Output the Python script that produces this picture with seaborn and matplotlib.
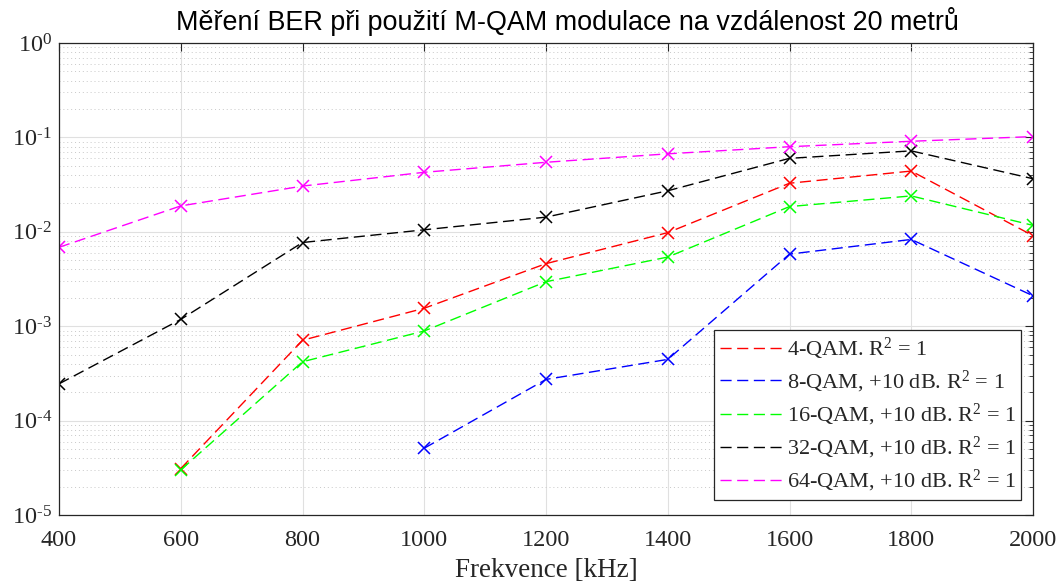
import numpy as np
import pandas as pd
import matplotlib
matplotlib.use("Agg")
import matplotlib.pyplot as plt
import seaborn as sns
from matplotlib.lines import Line2D
from matplotlib.ticker import LogLocator, NullFormatter, FixedLocator, FuncFormatter

freq = [400, 600, 800, 1000, 1200, 1400, 1600, 1800, 2000]
ber_4qam = [np.nan, 3.1e-5, 7.1e-4, 1.55e-3, 4.6e-3, 9.8e-3, 3.27e-2, 4.4e-2, 9.1e-3]
ber_8qam = [np.nan, np.nan, np.nan, 5.1e-5, 2.73e-4, 4.45e-4, 5.8e-3, 8.3e-3, 2.1e-3]
ber_16qam = [np.nan, 3.0e-5, 4.2e-4, 8.9e-4, 2.96e-3, 5.4e-3, 1.85e-2, 2.4e-2, 1.17e-2]
ber_32qam = [2.45e-4, 1.18e-3, 7.7e-3, 1.05e-2, 1.43e-2, 2.72e-2, 6.0e-2, 7.2e-2, 3.65e-2]
ber_64qam = [6.85e-3, 1.88e-2, 3.05e-2, 4.27e-2, 5.45e-2, 6.7e-2, 7.97e-2, 9.1e-2, 1.02e-1]

labels = ["4-QAM. R$^2$ = 1", "8-QAM, +10 dB. R$^2$ = 1", "16-QAM, +10 dB. R$^2$ = 1",
          "32-QAM, +10 dB. R$^2$ = 1", "64-QAM, +10 dB. R$^2$ = 1"]
colors = ["#ff0000", "#0000ff", "#00ff00", "#000000", "#ff00ff"]
series = [ber_4qam, ber_8qam, ber_16qam, ber_32qam, ber_64qam]

title = "Měření BER při použití M-QAM modulace na vzdálenost 20 metrů"
xlabel = "Frekvence [kHz]"

sns.set_style("white")
plt.rcParams["font.family"] = ["Liberation Serif", "DejaVu Serif"]
plt.rcParams["mathtext.fontset"] = "custom"
plt.rcParams["mathtext.rm"] = "Liberation Serif"
plt.rcParams["mathtext.it"] = "Liberation Serif:italic"

fig = plt.figure(figsize=(10.59, 5.85), dpi=100)
ax = fig.add_axes([59/1059, 1 - 515/585, (1033-59)/1059, (515-43)/585])

axc = "#262626"
dash = (8, 4)
for lab, col, vals in zip(labels, colors, series):
    df = pd.DataFrame({"f": freq, "ber": vals}).dropna()
    sns.lineplot(data=df, x="f", y="ber", ax=ax, color=col, marker="x",
                 markersize=9, markeredgewidth=1.1, markeredgecolor=col,
                 linewidth=1.0, legend=False)
for ln in ax.get_lines():
    ln.set_dashes(dash)

def logfmt(v, pos):
    n = int(round(np.log10(v)))
    if n < 0:
        return r"$10^{\text{-}%d}$" % (-n)
    return r"$10^{%d}$" % n

ax.set_yscale("log")
ax.set_xlim(400, 2000)
ax.set_ylim(1e-5, 1e0)
ax.xaxis.set_major_locator(FixedLocator(freq))
ax.yaxis.set_major_locator(LogLocator(base=10, numticks=10))
ax.yaxis.set_major_formatter(FuncFormatter(logfmt))
ax.yaxis.set_minor_locator(LogLocator(base=10, subs=np.arange(2, 10), numticks=20))
ax.yaxis.set_minor_formatter(NullFormatter())

ax.grid(True, which="major", color="#e0e0e0", linewidth=0.8, linestyle="-")
ax.grid(True, which="minor", axis="y", color="#c8c8c8", linewidth=0.7, linestyle=(0, (1, 3)))
ax.set_axisbelow(True)

for s in ax.spines.values():
    s.set_color(axc)
    s.set_linewidth(0.9)
ax.tick_params(which="both", direction="in", top=True, right=True, colors=axc,
               labelsize=17.5, labelcolor=axc)
ax.tick_params(which="major", length=6)
ax.tick_params(which="minor", length=3)
ax.tick_params(axis="x", pad=11)
ax.tick_params(axis="y", pad=5)

ax.set_xlabel(xlabel, fontsize=19.5, color=axc, labelpad=5)
ax.set_ylabel("")
ax.set_title(title, family=["Liberation Sans", "DejaVu Sans"], fontsize=19.4,
             color="black", pad=9, x=0.5216)

handles = [Line2D([0], [0], color=c, linewidth=1.0, dashes=dash) for c in colors]
leg = ax.legend(handles, labels, loc="lower right",
                bbox_to_anchor=((1021 - 59) / 974, (515 - 500) / 472),
                fontsize=16, frameon=True, fancybox=False, framealpha=1,
                edgecolor=axc, handlelength=2.8, handletextpad=0.2,
                labelspacing=0.32, borderpad=0.25, borderaxespad=0.0)
leg.get_frame().set_linewidth(0.9)

fig.savefig("out.png", dpi=100)
